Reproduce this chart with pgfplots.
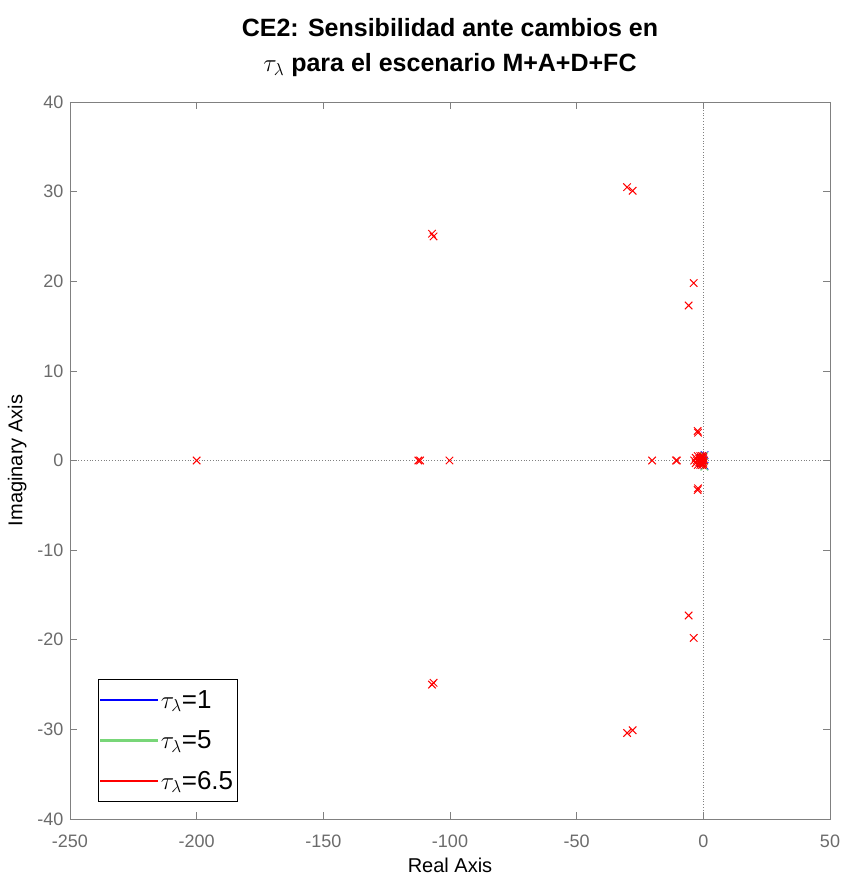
\documentclass[border=0pt]{standalone}
\usepackage{pgfplots}
\pgfplotsset{compat=1.18}
\usepackage{fontspec}
\setmainfont{Liberation Sans}
\definecolor{axgray}{rgb}{0.5,0.5,0.5}
\definecolor{txtgray}{rgb}{0.42,0.42,0.42}
\definecolor{mgreen}{rgb}{0.47,0.84,0.47}
\definecolor{mblue}{rgb}{0,0,1}
\definecolor{mred}{rgb}{1,0,0}
\begin{document}
\begin{tikzpicture}
\begin{axis}[
  scale only axis,
  width=760pt, height=717pt,
  xmin=-250, xmax=50, ymin=-40, ymax=40,
  xtick={-250,-200,...,50}, ytick={-40,-30,...,40},
  tick align=inside, major tick length=7pt,
  axis line style={axgray, line width=0.7pt},
  tick style={axgray, line width=0.7pt},
  tick label style={font=\fontsize{18}{20}\selectfont, text=txtgray},
  xticklabel style={yshift=-12pt},
  yticklabel style={xshift=-3pt},
  /pgf/number format/assume math mode=true,
  /pgf/number format/1000 sep={},
  xlabel={Real Axis}, ylabel={Imaginary Axis},
  label style={font=\fontsize{20}{22}\selectfont, text=black},
  xlabel style={yshift=-4pt},
  ylabel style={yshift=4pt},
  title={CE2: Sensibilidad ante cambios en\\$\tau_\lambda$ para el escenario M+A+D+FC},
  title style={align=center, font=\bfseries\fontsize{25}{35}\selectfont, yshift=16pt},
  legend style={at={(0.0368,0.0237)}, anchor=south west, draw=black, line width=0.8pt,
    font=\fontsize{26}{29}\selectfont, row sep=17pt, inner xsep=2pt, inner ysep=9pt,
    nodes={inner xsep=2.5pt}},
  legend cell align=left,
  clip=false,
]
\draw[dotted, gray, line width=0.8pt] (axis cs:0,-40) -- (axis cs:0,40);
\draw[dotted, gray, line width=0.8pt] (axis cs:-250,0) -- (axis cs:50,0);
\addplot[only marks, mark=x, mark size=5.3pt, mblue, line width=1pt,
  legend image code/.code={\fill[mblue] (0pt,-0.5pt) rectangle (57pt,0.5pt);}]
  coordinates {(0.5,0.6) (0.5,-0.6) (-0.5,0) (-1,0.3) (-1,-0.3)};
\addlegendentry{$\tau_\lambda$=1}
\addplot[only marks, mark=x, mark size=5.3pt, mgreen, line width=1pt,
  legend image code/.code={\fill[mgreen] (0pt,-1pt) rectangle (57pt,1pt);}]
  coordinates {(0.4,-0.7) (0.3,0.5) (-0.5,0)};
\addlegendentry{$\tau_\lambda$=5}
\addplot[only marks, mark=x, mark size=5.3pt, mred, line width=1pt,
  legend image code/.code={\fill[mred] (0pt,-0.5pt) rectangle (57pt,0.5pt);}]
  coordinates {
  (-200,0) (-112.5,0) (-111.8,0) (-100.2,0)
  (-107.1,25.3) (-106.5,25.0) (-107.1,-25.0) (-106.5,-24.8)
  (-30.1,30.5) (-27.9,30.1) (-30.1,-30.4) (-27.9,-30.1)
  (-3.8,19.8) (-5.8,17.3) (-3.8,-19.8) (-5.8,-17.3)
  (-2.25,3.3) (-2.1,3.1) (-2.25,-3.3) (-2.1,-3.1)
  (-20.2,0) (-10.4,0) (-10.8,0)
  (-3.6,0) (-3,0.3) (-3,-0.3) (-2.6,0) (-2.2,0.5) (-2.2,-0.5)
  (-1.6,0.2) (-1.6,-0.2) (-1.2,0.5) (-1.2,-0.5) (-1,0)
  (-0.8,0.3) (-0.8,-0.3) (-0.5,0.5) (-0.5,-0.5) (-0.3,0)
  (0,0.25) (0,-0.25) (-0.1,0.4) (-0.1,-0.4) (0.3,0)
  };
\addlegendentry{$\tau_\lambda$=6.5}
\end{axis}
\pgfresetboundingbox
\path[use as bounding box] (current axis.south west) ++(-70pt,-58pt) rectangle ++(842pt,877pt);
\end{tikzpicture}
\end{document}
